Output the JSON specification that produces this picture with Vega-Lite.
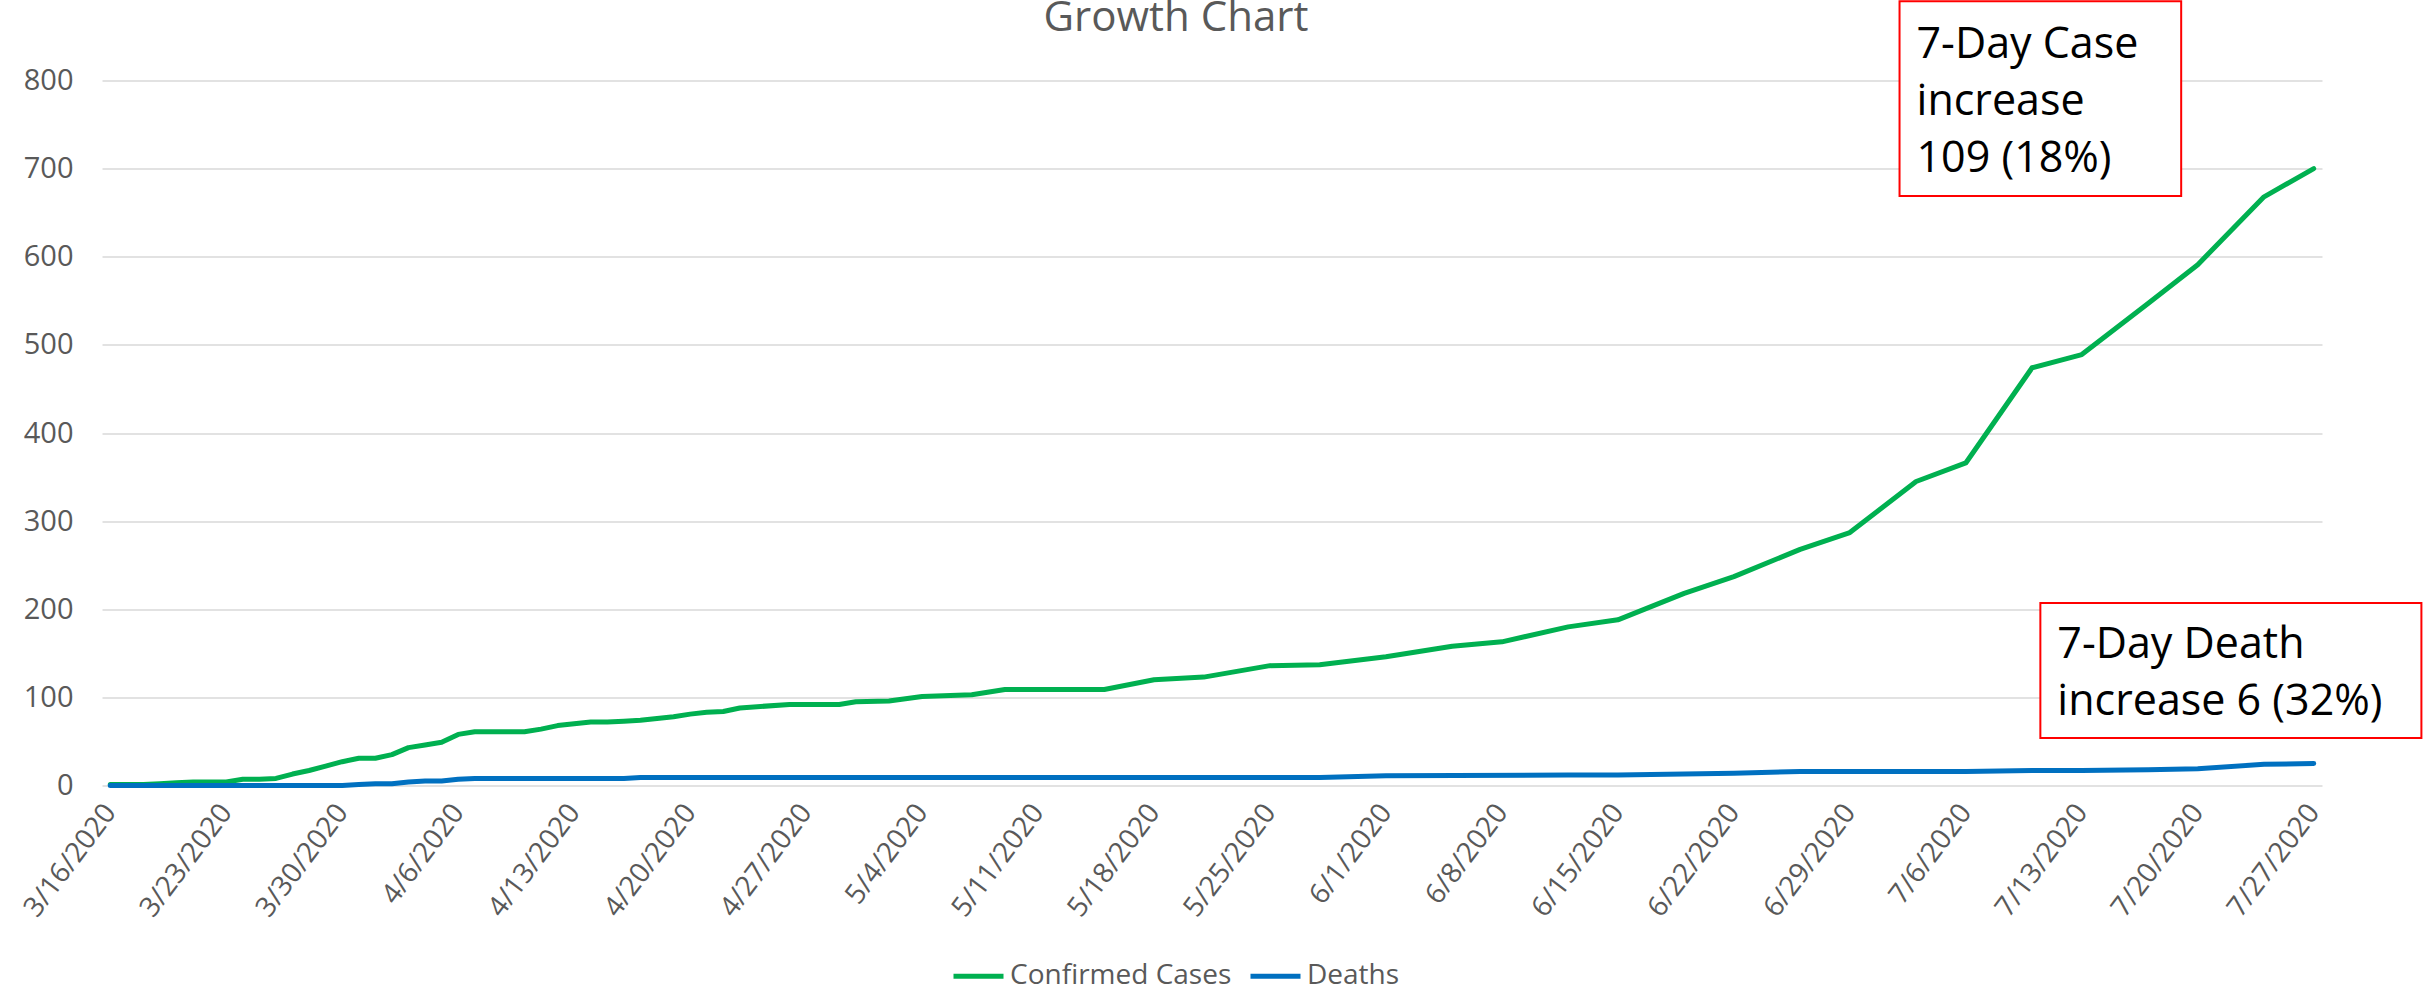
{
  "$schema": "https://vega.github.io/schema/vega-lite/v6.json",
  "width": 2220,
  "height": 705,
  "autosize": {"type": "none"},
  "padding": {"left": 102, "top": 80.5, "right": 103, "bottom": 206.5},
  "background": "white",
  "config": {"view": {"stroke": null}, "font": "Open Sans"},
  "title": {"text": "Growth Chart", "fontSize": 42, "font": "Open Sans", "fontWeight": "normal", "color": "#595959", "anchor": "middle", "frame": "group", "dx": -36, "baseline": "alphabetic", "offset": -73},
  "layer": [
    {
      "data": {"values": [
        {"date": "2020-03-16", "series": "Confirmed Cases", "value": 1},
        {"date": "2020-03-17", "series": "Confirmed Cases", "value": 1},
        {"date": "2020-03-18", "series": "Confirmed Cases", "value": 1},
        {"date": "2020-03-19", "series": "Confirmed Cases", "value": 2},
        {"date": "2020-03-20", "series": "Confirmed Cases", "value": 3},
        {"date": "2020-03-21", "series": "Confirmed Cases", "value": 4},
        {"date": "2020-03-22", "series": "Confirmed Cases", "value": 4},
        {"date": "2020-03-23", "series": "Confirmed Cases", "value": 4},
        {"date": "2020-03-24", "series": "Confirmed Cases", "value": 7},
        {"date": "2020-03-25", "series": "Confirmed Cases", "value": 7},
        {"date": "2020-03-26", "series": "Confirmed Cases", "value": 8},
        {"date": "2020-03-27", "series": "Confirmed Cases", "value": 13},
        {"date": "2020-03-28", "series": "Confirmed Cases", "value": 17},
        {"date": "2020-03-29", "series": "Confirmed Cases", "value": 22},
        {"date": "2020-03-30", "series": "Confirmed Cases", "value": 27},
        {"date": "2020-03-31", "series": "Confirmed Cases", "value": 31},
        {"date": "2020-04-01", "series": "Confirmed Cases", "value": 31},
        {"date": "2020-04-02", "series": "Confirmed Cases", "value": 35},
        {"date": "2020-04-03", "series": "Confirmed Cases", "value": 43},
        {"date": "2020-04-04", "series": "Confirmed Cases", "value": 46},
        {"date": "2020-04-05", "series": "Confirmed Cases", "value": 49},
        {"date": "2020-04-06", "series": "Confirmed Cases", "value": 58},
        {"date": "2020-04-07", "series": "Confirmed Cases", "value": 61},
        {"date": "2020-04-08", "series": "Confirmed Cases", "value": 61},
        {"date": "2020-04-09", "series": "Confirmed Cases", "value": 61},
        {"date": "2020-04-10", "series": "Confirmed Cases", "value": 61},
        {"date": "2020-04-11", "series": "Confirmed Cases", "value": 64},
        {"date": "2020-04-12", "series": "Confirmed Cases", "value": 68},
        {"date": "2020-04-13", "series": "Confirmed Cases", "value": 70},
        {"date": "2020-04-14", "series": "Confirmed Cases", "value": 72},
        {"date": "2020-04-15", "series": "Confirmed Cases", "value": 72},
        {"date": "2020-04-16", "series": "Confirmed Cases", "value": 73},
        {"date": "2020-04-17", "series": "Confirmed Cases", "value": 74},
        {"date": "2020-04-18", "series": "Confirmed Cases", "value": 76},
        {"date": "2020-04-19", "series": "Confirmed Cases", "value": 78},
        {"date": "2020-04-20", "series": "Confirmed Cases", "value": 81},
        {"date": "2020-04-21", "series": "Confirmed Cases", "value": 83},
        {"date": "2020-04-22", "series": "Confirmed Cases", "value": 84},
        {"date": "2020-04-23", "series": "Confirmed Cases", "value": 88},
        {"date": "2020-04-26", "series": "Confirmed Cases", "value": 92},
        {"date": "2020-04-29", "series": "Confirmed Cases", "value": 92},
        {"date": "2020-04-30", "series": "Confirmed Cases", "value": 95},
        {"date": "2020-05-02", "series": "Confirmed Cases", "value": 96},
        {"date": "2020-05-04", "series": "Confirmed Cases", "value": 101},
        {"date": "2020-05-07", "series": "Confirmed Cases", "value": 103},
        {"date": "2020-05-09", "series": "Confirmed Cases", "value": 109},
        {"date": "2020-05-15", "series": "Confirmed Cases", "value": 109},
        {"date": "2020-05-18", "series": "Confirmed Cases", "value": 120},
        {"date": "2020-05-21", "series": "Confirmed Cases", "value": 123},
        {"date": "2020-05-25", "series": "Confirmed Cases", "value": 136},
        {"date": "2020-05-28", "series": "Confirmed Cases", "value": 137},
        {"date": "2020-06-01", "series": "Confirmed Cases", "value": 146},
        {"date": "2020-06-05", "series": "Confirmed Cases", "value": 158},
        {"date": "2020-06-08", "series": "Confirmed Cases", "value": 163},
        {"date": "2020-06-12", "series": "Confirmed Cases", "value": 180},
        {"date": "2020-06-15", "series": "Confirmed Cases", "value": 188},
        {"date": "2020-06-19", "series": "Confirmed Cases", "value": 218},
        {"date": "2020-06-22", "series": "Confirmed Cases", "value": 237},
        {"date": "2020-06-26", "series": "Confirmed Cases", "value": 268},
        {"date": "2020-06-29", "series": "Confirmed Cases", "value": 287},
        {"date": "2020-07-03", "series": "Confirmed Cases", "value": 345},
        {"date": "2020-07-06", "series": "Confirmed Cases", "value": 366},
        {"date": "2020-07-10", "series": "Confirmed Cases", "value": 474},
        {"date": "2020-07-13", "series": "Confirmed Cases", "value": 489},
        {"date": "2020-07-17", "series": "Confirmed Cases", "value": 547},
        {"date": "2020-07-20", "series": "Confirmed Cases", "value": 591},
        {"date": "2020-07-24", "series": "Confirmed Cases", "value": 668},
        {"date": "2020-07-27", "series": "Confirmed Cases", "value": 700},
        {"date": "2020-03-16", "series": "Deaths", "value": 0},
        {"date": "2020-03-30", "series": "Deaths", "value": 0},
        {"date": "2020-03-31", "series": "Deaths", "value": 1},
        {"date": "2020-04-01", "series": "Deaths", "value": 2},
        {"date": "2020-04-02", "series": "Deaths", "value": 2},
        {"date": "2020-04-03", "series": "Deaths", "value": 4},
        {"date": "2020-04-04", "series": "Deaths", "value": 5},
        {"date": "2020-04-05", "series": "Deaths", "value": 5},
        {"date": "2020-04-06", "series": "Deaths", "value": 7},
        {"date": "2020-04-07", "series": "Deaths", "value": 8},
        {"date": "2020-04-16", "series": "Deaths", "value": 8},
        {"date": "2020-04-17", "series": "Deaths", "value": 9},
        {"date": "2020-05-28", "series": "Deaths", "value": 9},
        {"date": "2020-06-01", "series": "Deaths", "value": 11},
        {"date": "2020-06-12", "series": "Deaths", "value": 12},
        {"date": "2020-06-15", "series": "Deaths", "value": 12},
        {"date": "2020-06-22", "series": "Deaths", "value": 14},
        {"date": "2020-06-26", "series": "Deaths", "value": 16},
        {"date": "2020-07-06", "series": "Deaths", "value": 16},
        {"date": "2020-07-10", "series": "Deaths", "value": 17},
        {"date": "2020-07-13", "series": "Deaths", "value": 17},
        {"date": "2020-07-17", "series": "Deaths", "value": 18},
        {"date": "2020-07-20", "series": "Deaths", "value": 19},
        {"date": "2020-07-24", "series": "Deaths", "value": 24},
        {"date": "2020-07-27", "series": "Deaths", "value": 25}
      ]},
      "mark": {"type": "line", "strokeWidth": 5, "strokeCap": "round", "strokeJoin": "round"},
      "encoding": {
        "x": {
          "field": "date", "type": "temporal",
          "scale": {"type": "utc", "domain": [{"year": 2020, "month": 3, "date": 15, "hours": 12, "utc": true}, {"year": 2020, "month": 7, "date": 27, "hours": 12, "utc": true}]},
          "axis": {
            "title": null, "grid": false, "domain": false, "ticks": false,
            "values": [
              {"year": 2020, "month": 3, "date": 16, "utc": true},
              {"year": 2020, "month": 3, "date": 23, "utc": true},
              {"year": 2020, "month": 3, "date": 30, "utc": true},
              {"year": 2020, "month": 4, "date": 6, "utc": true},
              {"year": 2020, "month": 4, "date": 13, "utc": true},
              {"year": 2020, "month": 4, "date": 20, "utc": true},
              {"year": 2020, "month": 4, "date": 27, "utc": true},
              {"year": 2020, "month": 5, "date": 4, "utc": true},
              {"year": 2020, "month": 5, "date": 11, "utc": true},
              {"year": 2020, "month": 5, "date": 18, "utc": true},
              {"year": 2020, "month": 5, "date": 25, "utc": true},
              {"year": 2020, "month": 6, "date": 1, "utc": true},
              {"year": 2020, "month": 6, "date": 8, "utc": true},
              {"year": 2020, "month": 6, "date": 15, "utc": true},
              {"year": 2020, "month": 6, "date": 22, "utc": true},
              {"year": 2020, "month": 6, "date": 29, "utc": true},
              {"year": 2020, "month": 7, "date": 6, "utc": true},
              {"year": 2020, "month": 7, "date": 13, "utc": true},
              {"year": 2020, "month": 7, "date": 20, "utc": true},
              {"year": 2020, "month": 7, "date": 27, "utc": true}
            ],
            "labelExpr": "utcFormat(datum.value, '%-m/%-d/%Y')",
            "labelAngle": -53, "labelAlign": "right", "labelBaseline": "middle",
            "labelFontSize": 28, "labelFont": "Open Sans", "labelColor": "#595959",
            "labelPadding": 22, "labelOverlap": false, "labelFlush": false, "labelBound": false
          }
        },
        "y": {
          "field": "value", "type": "quantitative",
          "scale": {"domain": [0, 800], "nice": false},
          "axis": {
            "title": null, "values": [0, 100, 200, 300, 400, 500, 600, 700, 800],
            "grid": true, "gridColor": "#D9D9D9", "gridWidth": 1.7,
            "domain": false, "ticks": false,
            "labelFontSize": 29, "labelFont": "Open Sans", "labelColor": "#595959", "labelPadding": 29
          }
        },
        "color": {
          "field": "series", "type": "nominal",
          "scale": {"domain": ["Confirmed Cases", "Deaths"], "range": ["#00B050", "#0070C0"]},
          "legend": {
            "title": null, "orient": "none", "legendX": 849, "legendY": 868, "direction": "horizontal",
            "symbolType": "stroke", "symbolStrokeWidth": 5, "symbolSize": 2500,
            "labelFontSize": 28, "labelFont": "Open Sans", "labelColor": "#595959", "labelLimit": 500,
            "labelOffset": 4, "columnPadding": 8
          }
        }
      }
    },
    {
      "data": {"values": [
        {"start": "2020-07-02T00:00:00Z", "end": "2020-07-19T00:00:00Z", "top": 890, "bottom": 669, "textY": 825, "label": "7-Day Case\nincrease\n109 (18%)"},
        {"start": "2020-07-10T12:00:00Z", "end": "2020-08-02T12:00:00Z", "top": 207, "bottom": 54, "textY": 144.7, "label": "7-Day Death\nincrease 6 (32%)"}
      ]},
      "layer": [
        {
          "mark": {"type": "rect", "fill": "white", "stroke": "#FF0000", "strokeWidth": 2},
          "encoding": {
            "x": {"field": "start", "type": "temporal"},
            "x2": {"field": "end"},
            "y": {"field": "top", "type": "quantitative"},
            "y2": {"field": "bottom"}
          }
        },
        {
          "mark": {"type": "text", "align": "left", "baseline": "alphabetic", "fontSize": 43, "font": "Open Sans", "lineHeight": 57, "lineBreak": "\n", "color": "black", "dx": 17},
          "encoding": {
            "x": {"field": "start", "type": "temporal"},
            "y": {"field": "textY", "type": "quantitative"},
            "text": {"field": "label", "type": "nominal"}
          }
        }
      ]
    }
  ]
}
